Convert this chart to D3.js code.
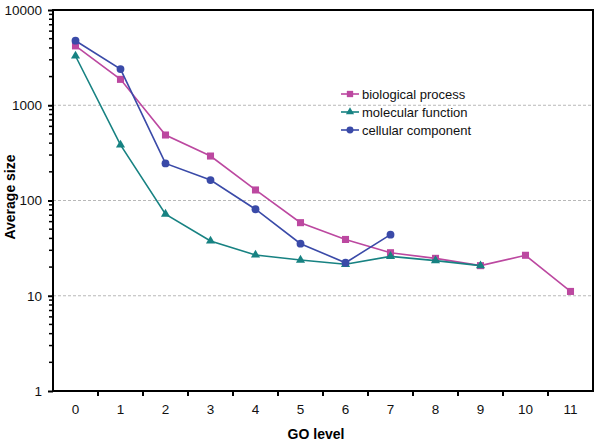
<!DOCTYPE html>
<html><head><meta charset="utf-8">
<script src="https://cdn.jsdelivr.net/npm/d3@7"></script>
<style>body{margin:0;background:#fff}svg{display:block;font-family:"Liberation Sans",Arial,sans-serif}</style>
</head><body>
<script>
const levels = ["0","1","2","3","4","5","6","7","8","9","10","11"];
const biologicalProcess = [4200, 1870, 487, 293, 129, 58.5, 39, 28.3, 24.7, 20.7, 26.6, 11.1];
const molecularFunction = [3290, 383, 72, 37.6, 26.8, 23.7, 21.4, 25.9, 23.4, 20.7];
const cellularComponent = [4760, 2400, 245, 164, 81, 35.2, 22.2, 43.8];
const yTicks = [1, 10, 100, 1000, 10000];
const seriesNames = ["biological process", "molecular function", "cellular component"];
const colors = ["#bc48a0", "#178282", "#3a4aa8"];
const symbols = [d3.symbolSquare, d3.symbolTriangle, d3.symbolCircle];
const symSizes = [50, 36, 48];

const W = 600, H = 446;
const m = {l: 53, r: 7, t: 10, b: 55};
const svg = d3.select("body").append("svg").attr("width", W).attr("height", H);

const x = d3.scaleBand().domain(levels).range([m.l, W - m.r]);
const y = d3.scaleLog().domain([1, 10000]).range([H - m.b, m.t]);

// grid
svg.append("g").selectAll("line").data(yTicks.slice(1, -1)).join("line")
  .attr("x1", m.l).attr("x2", W - m.r)
  .attr("y1", d => y(d)).attr("y2", d => y(d))
  .attr("stroke", "#b8b8b8").attr("stroke-dasharray", "3,2").attr("stroke-width", 1);

// minor ticks
const minor = [];
for (let e = 0; e < 4; e++) for (let k = 2; k <= 9; k++) minor.push(k * Math.pow(10, e));

const yAxis = svg.append("g").attr("transform", `translate(${m.l},0)`)
  .call(d3.axisLeft(y).tickValues(yTicks).tickFormat(d3.format("d")).tickSize(5).tickPadding(6));
yAxis.select(".domain").remove();
yAxis.selectAll(".tick line").attr("stroke-width", 2);
yAxis.selectAll("text").attr("font-size", 13.5).attr("fill", "#111");
svg.append("g").selectAll("line").data(minor).join("line")
  .attr("x1", m.l - 4).attr("x2", m.l).attr("y1", d => y(d)).attr("y2", d => y(d))
  .attr("stroke", "#000").attr("stroke-width", 1.5);

const xAxis = svg.append("g").attr("transform", `translate(0,${H - m.b})`)
  .call(d3.axisBottom(x).tickSize(0).tickPadding(13));
xAxis.select(".domain").remove();
xAxis.selectAll("text").attr("font-size", 13.5).attr("fill", "#111");
// x ticks between categories
svg.append("g").selectAll("line").data(levels.slice(1)).join("line")
  .attr("x1", d => x(d)).attr("x2", d => x(d))
  .attr("y1", H - m.b).attr("y2", H - m.b + 5)
  .attr("stroke", "#000").attr("stroke-width", 2);

// frame
svg.append("rect").attr("x", m.l).attr("y", m.t).attr("width", W - m.l - m.r).attr("height", H - m.t - m.b)
  .attr("fill", "none").attr("stroke", "#000").attr("stroke-width", 2);

// series
const all = [biologicalProcess, molecularFunction, cellularComponent];
const line = d3.line().x((d, i) => x(levels[i]) + x.bandwidth() / 2).y(d => y(d));
all.forEach((vals, s) => {
  const g = svg.append("g");
  g.append("path").attr("d", line(vals)).attr("fill", "none").attr("stroke", colors[s]).attr("stroke-width", 1.6);
  g.selectAll("path.m").data(vals).join("path").attr("class", "m")
    .attr("transform", (d, i) => `translate(${x(levels[i]) + x.bandwidth() / 2},${y(d)})`)
    .attr("d", d3.symbol().type(symbols[s]).size(symSizes[s]))
    .attr("fill", colors[s]);
});

// legend
const lg = svg.append("g").attr("transform", "translate(341,94)");
seriesNames.forEach((n, i) => {
  const g = lg.append("g").attr("transform", `translate(0,${i * 18})`);
  g.append("line").attr("x1", 0).attr("x2", 18).attr("stroke", colors[i]).attr("stroke-width", 1.6);
  g.append("path").attr("transform", "translate(9,0)").attr("d", d3.symbol().type(symbols[i]).size(symSizes[i] * 0.8)).attr("fill", colors[i]);
  g.append("text").attr("x", 21).attr("y", 0).attr("dy", "0.35em").attr("font-size", 13).attr("fill", "#111").text(n);
});

// axis titles
svg.append("text").attr("transform", `translate(15,197) rotate(-90)`)
  .attr("text-anchor", "middle").attr("font-weight", "bold").attr("font-size", 14).text("Average size");
svg.append("text").attr("x", 316).attr("y", 439)
  .attr("text-anchor", "middle").attr("font-weight", "bold").attr("font-size", 14).text("GO level");
</script>
</body></html>
